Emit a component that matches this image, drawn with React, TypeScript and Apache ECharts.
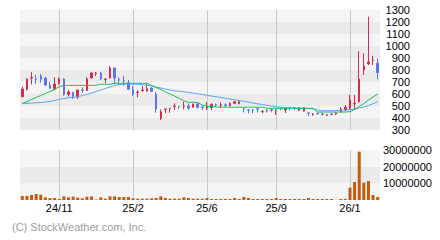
import React, { useEffect, useRef } from "react";
import * as echarts from "echarts";

// 78 weekly bars; category ids
const categories: string[] = Array.from({ length: 78 }, (_, i) => "w" + i);

// x tick labels and the bar index they sit on
const tickIndex = [8, 24, 40, 55, 71];
const tickLabels = ["24/11", "25/2", "25/6", "25/9", "26/1"];

// [open, close, low, high]
const candles: number[][] = [
  [578, 642, 572, 661], [642, 725, 628, 731], [732, 738, 680, 783], [726, 722, 683, 760],
  [750, 722, 694, 767], [733, 675, 667, 744], [675, 647, 642, 700], [644, 683, 628, 739],
  [689, 725, 675, 739], [725, 597, 583, 733], [597, 617, 578, 633], [614, 578, 558, 619],
  [575, 633, 558, 636], [636, 631, 611, 656], [628, 725, 628, 739], [733, 775, 728, 783],
  [770, 775, 750, 783], [775, 728, 717, 783], [722, 725, 689, 731], [733, 817, 733, 833],
  [817, 733, 683, 817], [720, 716, 675, 739], [712, 708, 667, 750], [694, 639, 639, 717],
  [633, 600, 583, 667], [612, 616, 572, 633], [628, 633, 619, 667], [625, 644, 619, 683],
  [650, 622, 617, 656], [600, 475, 444, 617], [397, 450, 383, 472], [472, 475, 439, 481],
  [478, 481, 444, 483], [497, 500, 467, 522], [497, 494, 475, 500], [497, 500, 472, 536],
  [500, 483, 467, 522], [489, 517, 486, 519], [517, 489, 478, 522], [492, 488, 467, 500],
  [483, 497, 467, 533], [486, 514, 467, 522], [512, 508, 494, 522], [506, 510, 486, 531],
  [510, 506, 492, 522], [502, 522, 497, 531], [522, 536, 514, 542], [519, 536, 514, 540],
  [478, 475, 447, 481], [469, 466, 439, 475], [469, 466, 439, 475], [477, 474, 447, 486],
  [451, 454, 439, 467], [461, 457, 447, 475], [469, 465, 447, 481], [464, 467, 425, 469],
  [478, 475, 464, 481], [467, 481, 442, 486], [485, 481, 464, 492], [485, 481, 469, 489],
  [464, 486, 461, 489], [458, 486, 453, 492], [442, 439, 414, 447], [428, 431, 419, 442],
  [438, 435, 425, 447], [434, 430, 420, 445], [423, 427, 415, 435], [434, 430, 422, 445],
  [433, 444, 425, 450], [453, 472, 445, 490], [467, 489, 458, 508], [481, 550, 467, 592],
  [517, 522, 467, 592], [536, 725, 528, 958], [800, 833, 758, 939], [850, 867, 842, 1244],
  [879, 883, 842, 919], [856, 778, 722, 897],
];

// short moving average (green)
const maShort: number[] = [
  521, 537, 554, 571, 588, 604, 621, 638, 662, 672,
  672, 672, 672, 672, 672, 672, 672, 681, 681, 681,
  689, 689, 689, 689, 689, 689, 689, 689, 671, 654,
  638, 617, 600, 583, 563, 542, 531, 531, 529, 508,
  498, 496, 492, 490, 490, 490, 490, 490, 490, 490,
  490, 490, 490, 481, 481, 481, 481, 481, 481, 481,
  481, 481, 481, 481, 450, 450, 450, 450, 450, 450,
  450, 453, 471, 496, 521, 550, 575, 600,
];

// long moving average (light blue)
const maLong: number[] = [
  521, 522, 525, 527, 529, 533, 537, 546, 554, 563,
  568, 571, 575, 588, 596, 608, 621, 633, 646, 658,
  671, 679, 683, 683, 683, 682, 678, 672, 667, 658,
  650, 642, 633, 627, 623, 619, 614, 608, 602, 596,
  589, 583, 577, 571, 564, 558, 552, 546, 539, 533,
  525, 518, 512, 506, 500, 494, 489, 486, 483, 481,
  481, 481, 479, 475, 467, 461, 461, 461, 462, 464,
  467, 471, 475, 483, 492, 504, 519, 536,
];

const volumes: number[] = [
  2400000, 2400000, 3000000, 3600000, 3200000, 1600000, 1200000, 1200000, 600000, 2200000,
  1600000, 2000000, 1400000, 1000000, 2000000, 2200000, 300000, 1600000, 800000, 2200000,
  2200000, 1800000, 1800000, 1800000, 1000000, 800000, 800000, 800000, 1000000, 1200000,
  2200000, 1200000, 800000, 800000, 800000, 1600000, 1200000, 800000, 800000, 700000,
  1200000, 600000, 600000, 600000, 600000, 600000, 1200000, 600000, 1800000, 1200000,
  600000, 600000, 600000, 600000, 600000, 1200000, 600000, 600000, 600000, 600000,
  600000, 600000, 1200000, 600000, 600000, 600000, 600000, 600000, 100000, 600000,
  600000, 7400000, 10800000, 29000000, 10400000, 11400000, 3000000, 1800000,
];

const RED = "#d72c50";
const BLUE = "#5c76f2";
const FONT = "'Liberation Sans', Arial, sans-serif";

export default function App() {
  const ref = useRef<HTMLDivElement>(null);
  useEffect(() => {
    const chart = echarts.init(ref.current!, null, { renderer: "svg" });
    const vLines = tickIndex.map((i) => ({ xAxis: categories[i] }));
    const mk = () => ({
      silent: true,
      z: 1,
      symbol: ["none", "none"],
      label: { show: false },
      lineStyle: { color: "#c8c8c8", width: 1, type: "solid" },
      emphasis: { disabled: true },
      animation: false,
      data: vLines,
    });
    chart.setOption({
      animation: false,
      grid: [
        { left: 20, top: 10, width: 360, height: 120 },
        { left: 20, top: 150, width: 360, height: 50 },
      ],
      xAxis: [
        {
          type: "category", gridIndex: 0, data: categories,
          axisLine: { show: false }, axisTick: { show: false },
          axisLabel: { show: false }, splitLine: { show: false },
        },
        {
          type: "category", gridIndex: 1, data: categories,
          axisLine: { show: false }, axisTick: { show: false }, splitLine: { show: false },
          axisLabel: {
            interval: (i: number) => tickIndex.includes(i),
            formatter: (_v: string, i: number) => {
              const k = tickIndex.indexOf(i);
              return k >= 0 ? tickLabels[k] : "";
            },
            margin: 2, fontSize: 11, fontFamily: FONT, color: "#000",
          },
        },
      ],
      yAxis: [
        {
          type: "value", gridIndex: 0, position: "right", min: 300, max: 1300, interval: 100,
          axisLine: { show: false }, axisTick: { show: false }, splitLine: { show: false },
          splitArea: { show: true, areaStyle: { color: ["#ebebeb", "#f5f5f5"] } },
          axisLabel: {
            align: "right", margin: 30, fontSize: 11, fontFamily: FONT, color: "#000",
            formatter: (v: number) => String(v),
          },
        },
        {
          type: "value", gridIndex: 1, position: "right", min: 0, max: 30000000, interval: 10000000,
          axisLine: { show: false }, axisTick: { show: false }, splitLine: { show: false },
          splitArea: { show: true, areaStyle: { color: ["#f5f5f5", "#ebebeb"] } },
          axisLabel: {
            showMinLabel: false, margin: 3, fontSize: 11, fontFamily: FONT, color: "#000",
            formatter: (v: number) => String(v),
          },
        },
      ],
      series: [
        {
          type: "candlestick", xAxisIndex: 0, yAxisIndex: 0, data: candles,
          barWidth: 2, z: 3,
          itemStyle: { color: RED, color0: BLUE, borderColor: RED, borderColor0: BLUE, borderWidth: 1 },
          markLine: mk(),
        },
        {
          type: "line", xAxisIndex: 0, yAxisIndex: 0, data: maLong, showSymbol: false,
          lineStyle: { color: "#5aa5f5", width: 1 }, z: 4, silent: true,
        },
        {
          type: "line", xAxisIndex: 0, yAxisIndex: 0, data: maShort, showSymbol: false,
          lineStyle: { color: "#18c050", width: 1 }, z: 4, silent: true,
        },
        {
          type: "bar", xAxisIndex: 1, yAxisIndex: 1, data: volumes, barWidth: 3, z: 3,
          itemStyle: { color: "#c85a0f" },
          markLine: mk(),
        },
      ],
      graphic: [
        {
          type: "text", left: 12, top: 221,
          style: { text: "(C) StockWeather.com, Inc.", fill: "#a0a0a0", fontSize: 11, fontFamily: FONT },
        },
      ],
    });
    return () => chart.dispose();
  }, []);
  return (
    <div
      ref={ref}
      style={{ position: "absolute", left: 0, top: 0, width: 440, height: 240, background: "#fff" }}
    />
  );
}
